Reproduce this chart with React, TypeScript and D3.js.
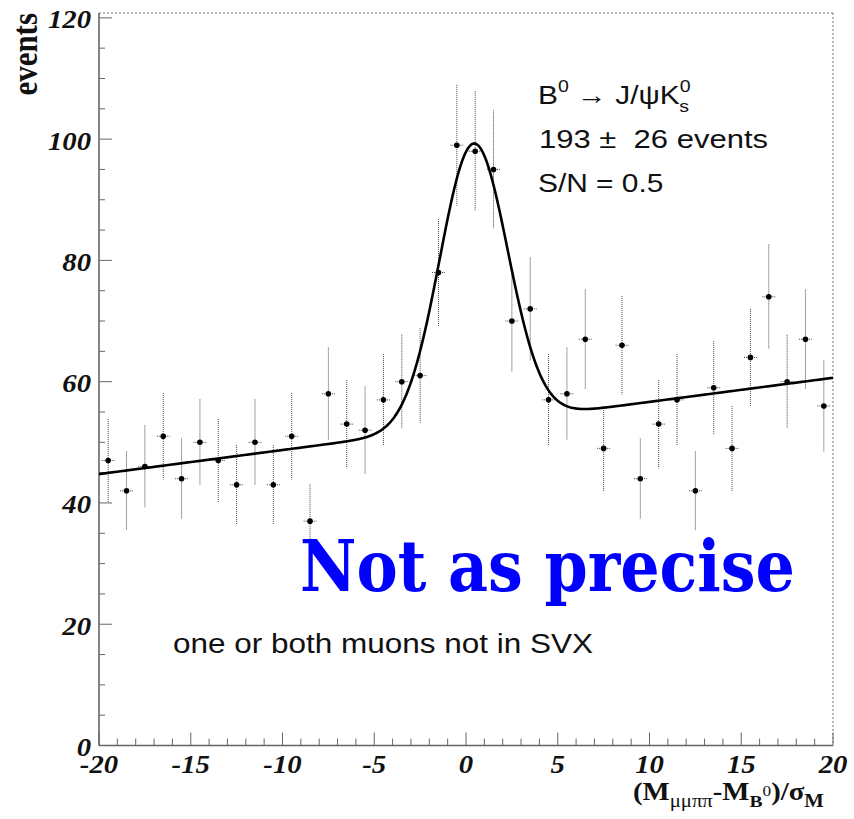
import React from "react";
import * as d3 from "d3";

// Histogram of normalised mass difference, 1-unit bins from -20 to 20
const binCenters = d3.range(-19.5, 20, 1);
const counts = [
  47, 42, 46, 51, 44, 50, 47, 43, 50, 43, 51, 37, 58, 53,
  52, 57, 60, 61, 78,
  99, 98, 95,
  70, 72, 57, 58, 67, 49, 66, 44, 53, 57, 42, 59, 49, 64, 74, 60, 67, 56,
];

// Fit: linear background plus a Gaussian signal
const bgIntercept = 52.7;
const bgSlope = 0.397;
const sigAmp = 46.4;
const sigMean = 0.42;
const sigWidth = 1.85;

const xTickLabels = [-20, -15, -10, -5, 0, 5, 10, 15, 20];
const yTickLabels = [0, 20, 40, 60, 80, 100, 120];

const W = 854;
const H = 819;
const left = 99;
const right = 833;
const top = 13;
const bottom = 745.5;

const serif = "'Liberation Serif', 'Times New Roman', serif";
const sans = "'Liberation Sans', Arial, Helvetica, sans-serif";
const SX = 1.15; // horizontal text stretch

function fitValue(x: number) {
  const g = sigAmp * Math.exp(-0.5 * ((x - sigMean) / sigWidth) ** 2);
  return bgIntercept + bgSlope * x + g;
}

export default function App() {
  const x = d3.scaleLinear().domain([-20, 20]).range([left, right]);
  const y = d3.scaleLinear().domain([0, 120.8]).range([bottom, top]);

  const fitPts: [number, number][] = d3
    .range(0, 801)
    .map((i) => -20 + (40 * i) / 800)
    .map((v) => [v, fitValue(v)]);
  const line = d3
    .line<[number, number]>()
    .x((d) => x(d[0]))
    .y((d) => y(d[1]))
    .curve(d3.curveLinear);

  const xMinor = d3.range(-20, 20.001, 1);
  const yMinor = d3.range(0, 120.001, 5);

  const tickFont = {
    fontFamily: serif,
    fontWeight: 700,
    fontStyle: "italic" as const,
    fontSize: 25,
  };

  return (
    <svg
      width={W}
      height={H}
      style={{ position: "absolute", left: 0, top: 0, background: "#fff" }}
    >
      {/* frame: dotted top and right */}
      <line x1={left} x2={right} y1={top} y2={top} stroke="#777" strokeWidth={1} strokeDasharray="2 2" />
      <line x1={right} x2={right} y1={top} y2={bottom} stroke="#777" strokeWidth={1} strokeDasharray="2 2" />

      {/* left axis */}
      <line x1={left} x2={left} y1={top} y2={bottom} stroke="#666" strokeWidth={1.6} />
      {yMinor.map((v) => {
        const major = v % 20 === 0;
        return (
          <line
            key={"yt" + v}
            x1={left}
            x2={left + (major ? 13 : 6)}
            y1={y(v)}
            y2={y(v)}
            stroke="#666"
            strokeWidth={1}
          />
        );
      })}
      {yTickLabels.map((v) => (
        <text
          key={"yl" + v}
          transform={`translate(${91},${y(v) + 10.5}) scale(${SX},1)`}
          textAnchor="end"
          {...tickFont}
          fill="#111"
        >
          {v}
        </text>
      ))}

      {/* bottom axis */}
      <line x1={left} x2={right} y1={bottom} y2={bottom} stroke="#666" strokeWidth={1.6} />
      {xMinor.map((v) => {
        const major = Math.abs(v % 5) < 1e-9;
        return (
          <line
            key={"xt" + v}
            x1={x(v)}
            x2={x(v)}
            y1={bottom}
            y2={bottom - (major ? 13 : 7)}
            stroke="#666"
            strokeWidth={1}
          />
        );
      })}
      {xTickLabels.map((v) => (
        <text
          key={"xl" + v}
          transform={`translate(${x(v)},${773}) scale(${SX},1)`}
          textAnchor="middle"
          {...tickFont}
          fill="#111"
        >
          {v}
        </text>
      ))}

      {/* axis titles */}
      <text
        transform={`translate(37,13) rotate(-90) scale(1,${SX})`}
        textAnchor="end"
        fontFamily={serif}
        fontWeight={700}
        fontSize={31}
        fill="#111"
      >
        events
      </text>
      <text
        transform={`translate(633,800) scale(${SX},1)`}
        fontFamily={serif}
        fontWeight={700}
        fontSize={25}
        fill="#111"
      >
        (M
        <tspan fontSize={18} dy={7} fontWeight={400}>μμππ</tspan>
        <tspan dy={-7}>-M</tspan>
        <tspan fontSize={17} dy={7}>B</tspan>
        <tspan fontSize={15} dy={-11} fontWeight={400}>0</tspan>
        <tspan dy={4}>)/σ</tspan>
        <tspan fontSize={18} dy={7}>M</tspan>
      </text>

      {/* error bars */}
      {counts.map((c, i) => {
        const cx = binCenters[i];
        const e = Math.sqrt(c);
        return (
          <g key={"eb" + i} stroke="#444" strokeWidth={1} strokeDasharray="1 1">
            <line x1={x(cx)} x2={x(cx)} y1={y(c + e)} y2={y(c - e)} />
            <line x1={x(cx - 0.35)} x2={x(cx + 0.35)} y1={y(c)} y2={y(c)} />
          </g>
        );
      })}
      {counts.map((c, i) => (
        <circle key={"pt" + i} cx={x(binCenters[i])} cy={y(c)} r={2.8} fill="#000" />
      ))}

      {/* fit curve */}
      <path d={line(fitPts) ?? ""} fill="none" stroke="#000" strokeWidth={2.6} />

      {/* annotations */}
      <g fontFamily={sans} fontSize={26} fill="#111">
        <text transform={`translate(538,104) scale(${SX},1)`}>
          B<tspan fontSize={17} dy={-12}>0</tspan>
          <tspan dy={12}> → J/ψK</tspan>
          <tspan fontSize={17} dy={-12}>0</tspan>
          <tspan fontSize={17} dx={-10} dy={20}>s</tspan>
        </text>
        <text
          x={539}
          y={148}
          xmlSpace="preserve"
          style={{ whiteSpace: "pre" }}
          textLength={229}
          lengthAdjust="spacingAndGlyphs"
        >
          {"193 \u00b1\u00a0 26 events"}
        </text>
        <text transform={`translate(538,192) scale(${SX},1)`}>S/N = 0.5</text>
        <text x={173} y={653} fontSize={27} textLength={420} lengthAdjust="spacingAndGlyphs">
          one or both muons not in SVX
        </text>
      </g>

      <text
        transform="translate(300,591) scale(0.9,1)"
        fontFamily="'DejaVu Serif', serif"
        fontWeight={700}
        fontSize={72}
        fill="#0000ff"
        textLength={550}
        lengthAdjust="spacingAndGlyphs"
      >
        Not as precise
      </text>
    </svg>
  );
}
